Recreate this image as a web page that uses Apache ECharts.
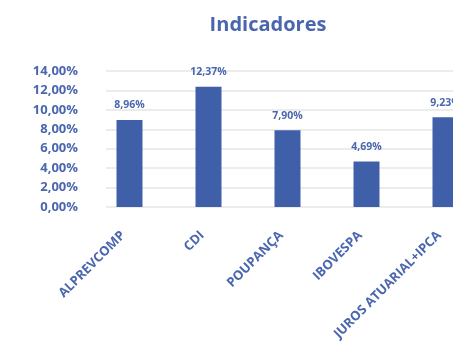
<!DOCTYPE html>
<html><head><meta charset="utf-8">
<script src="https://cdn.jsdelivr.net/npm/echarts@6/dist/echarts.min.js"></script>
<style>html,body{margin:0;padding:0;background:#fff}#c{width:453px;height:343px}</style>
</head><body><div id="c"></div>
<script>
var categories = ['ALPREVCOMP', 'CDI', 'POUPANÇA', 'IBOVESPA', 'JUROS ATUARIAL+IPCA'];
var values = [8.96, 12.37, 7.90, 4.69, 9.23];
var yMin = 0, yMax = 14, yStep = 2;
var color = '#3F5FA9';
var textColor = '#4A66AE';
var font = 'Open Sans';
function pct(v){ return v.toFixed(2).replace('.', ',') + '%'; }
var chart = echarts.init(document.getElementById('c'));
chart.setOption({
  animation: false,
  title: { text: 'Indicadores', left: 263, top: 10, textAlign: 'center',
    textStyle: { color: textColor, fontFamily: font, fontWeight: 'bold', fontSize: 20 } },
  grid: [
    { left: 90, top: 71, width: 395, height: 136, outerBoundsMode: 'none', containLabel: false },
    { left: 106, top: 71, width: 379, height: 136, outerBoundsMode: 'none', containLabel: false }
  ],
  xAxis: [
    { type: 'category', gridIndex: 0, data: categories,
      axisLine: { show: false }, axisTick: { show: false },
      axisLabel: { interval: 0, rotate: 45, margin: 20, padding: [0, 9, 0, 0],
        color: textColor, fontFamily: font, fontWeight: 'bold', fontSize: 13 } },
    { type: 'category', gridIndex: 1, data: categories, show: false }
  ],
  yAxis: [
    { type: 'value', gridIndex: 0, min: yMin, max: yMax, interval: yStep, show: false, splitLine: { show: false } },
    { type: 'value', gridIndex: 1, min: yMin, max: yMax, interval: yStep,
      axisLine: { show: false }, axisTick: { show: false },
      axisLabel: { margin: 28, formatter: pct, color: textColor, fontFamily: font, fontWeight: 'bold', fontSize: 13 },
      splitLine: { lineStyle: { color: '#E6E6E6', width: 1.5 } } }
  ],
  series: [{
    type: 'bar', xAxisIndex: 0, yAxisIndex: 0, data: values, barWidth: 26,
    itemStyle: { color: color },
    label: { show: true, position: 'top', distance: 9, formatter: function(p){ return pct(p.value); },
      color: textColor, fontFamily: font, fontWeight: 'bold', fontSize: 10.5 }
  }]
});
</script></body></html>
